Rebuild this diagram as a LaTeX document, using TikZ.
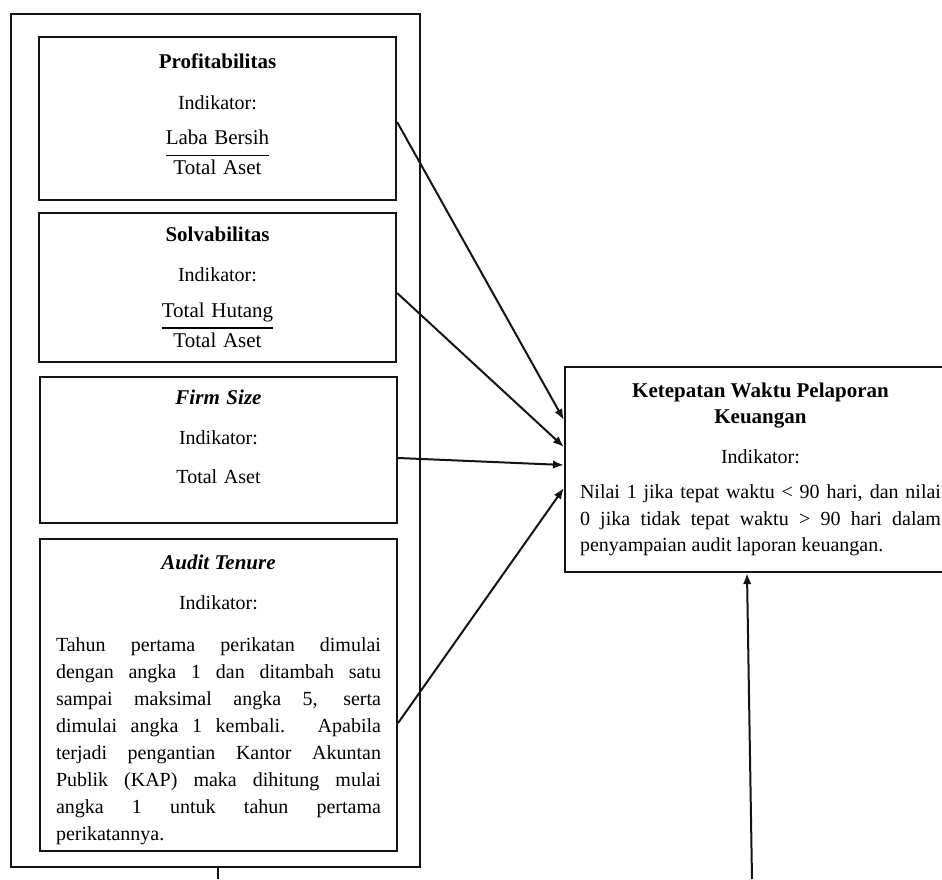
\documentclass[tikz,border=0pt]{standalone}
\usepackage{fontspec}
\setmainfont{Liberation Serif}
\usetikzlibrary{arrows.meta,calc}
\definecolor{BoxClr}{rgb}{0.08,0.08,0.08}
\setlength{\arrayrulewidth}{1.3pt}
\newcommand{\judul}[1]{{\fontsize{21}{27}\selectfont\bfseries #1}}
\newcommand{\rasio}[2]{{\fontsize{21}{27}\selectfont
  \begin{tabular}[t]{@{}c@{}}#1\\[2pt]\hline #2\end{tabular}}}

\begin{document}
\begin{tikzpicture}[x=1pt,y=1pt,
  kotak/.style={draw=BoxClr,line width=2.2pt,rectangle,inner xsep=16pt,inner ysep=0pt,
    font=\fontsize{20}{27}\selectfont},
  panah/.style={draw=BoxClr,line width=2pt,-{Latex[length=11pt,width=8.5pt]}}]
\useasboundingbox (0,0) rectangle (942,879);
\clip (0,0) rectangle (942,879);

\node[kotak,minimum width=409pt,minimum height=853pt] (luar) at (215.5,438.5) {};

\node[kotak,text width=325pt,align=center,minimum height=163pt] (prof) at (217.5,760.5)
  {\judul{Profitabilitas}\\[14pt]Indikator:\\[8pt]\rasio{Laba Bersih}{Total Aset}};
\node[kotak,text width=325pt,align=center,minimum height=149pt,text height=22pt] (solv) at (217.5,591.5)
  {\judul{Solvabilitas}\\[13pt]Indikator:\\[9pt]\rasio{Total Hutang}{Total Aset}};
\node[kotak,text width=325pt,align=center,minimum height=146pt] (firm) at (218.5,429)
  {\judul{\itshape Firm Size}\\[13pt]Indikator:\\[12pt]Total Aset\\\rule{0pt}{1pt}};
\node[kotak,text width=325pt,align=justify,minimum height=312pt,text height=24pt] (audit) at (218.5,184)
  {{\centering\judul{\itshape Audit Tenure}\\[13pt]Indikator:\par}\vspace{15pt}%
   Tahun pertama perikatan dimulai\linebreak dengan angka 1 dan ditambah satu\linebreak
   sampai maksimal angka 5, serta\linebreak dimulai angka 1 kembali. Apabila\linebreak
   terjadi pengantian Kantor Akuntan\linebreak Publik (KAP) maka dihitung mulai\linebreak
   angka 1 untuk tahun pertama\linebreak perikatannya.};

\node[kotak,text width=361pt,inner xsep=15pt,align=justify,minimum height=205pt,
  font=\fontsize{20}{26.5}\selectfont] (ket) at (760.5,409.5)
  {{\centering\judul{Ketepatan Waktu Pelaporan\\Keuangan}\\[13pt]Indikator:\par}\vspace{9pt}%
   Nilai 1 jika tepat waktu < 90 hari, dan nilai\linebreak
   0 jika tidak tepat waktu > 90 hari dalam\linebreak
   penyampaian audit laporan keuangan.};

\coordinate (dasar) at (752,0);
\coordinate (ujung) at (218,0);

\draw[panah] ([yshift=-3.5pt]prof.east) -- ([yshift=49.5pt]ket.west);
\draw[panah] ([yshift=-5.5pt]solv.east) -- ([yshift=22.5pt]ket.west);
\draw[panah] ([yshift=-8pt]firm.east) -- ([yshift=4.5pt]ket.west);
\draw[panah] ([yshift=-28pt]audit.east) -- ([yshift=-18.5pt]ket.west);
\draw[panah] (dasar) -- ([xshift=-13.5pt]ket.south);
\draw[draw=BoxClr,line width=2pt] ([xshift=2.5pt]luar.south) -- (ujung);

\end{tikzpicture}
\end{document}
